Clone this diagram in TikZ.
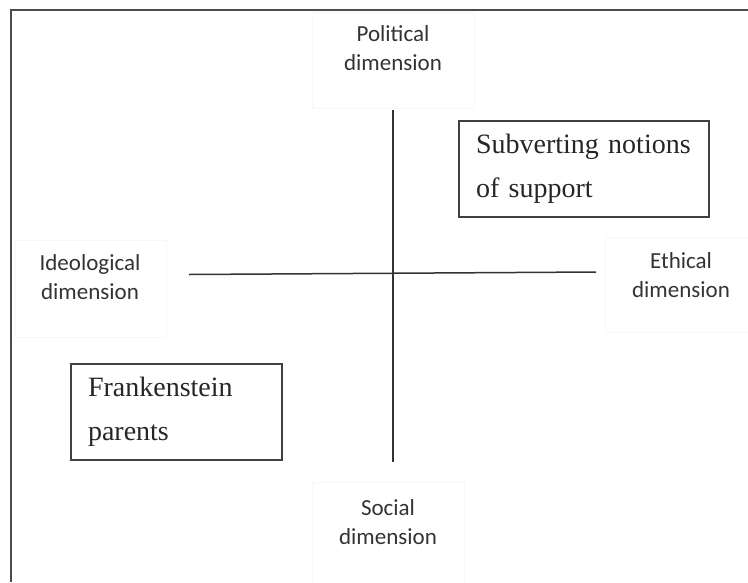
\documentclass[tikz,border=0pt]{standalone}
\usepackage{fontspec}
\setmainfont{Liberation Serif}
\newfontfamily\labelfont{Carlito}
\begin{document}
\begin{tikzpicture}[x=1pt,y=-1pt]
      \useasboundingbox (0,0) rectangle (748,582);
      % outer frame (top and left only)
      \draw[line width=2pt,color=black!70] (11,582) -- (11,10) -- (748,10);
      % faint text-box outlines behind the labels
      \begin{scope}[draw=black!3,line width=0.8pt]
        \draw (312,12) rectangle (474,108);
        \draw (15,240) rectangle (166,337);
        \draw (605,237) rectangle (750,332);
        \draw (312,482) rectangle (464,584);
      \end{scope}
      \begin{scope}[every node/.style={font=\labelfont\fontsize{23}{29}\selectfont,align=center,color=black!80,inner sep=0pt}]
        \node (pol) at (393,48) {Political\\dimension};
        \node (ideo) at (90,277) {Ideological\\dimension};
        \node (eth) at (681,275) {Ethical\\dimension};
        \node (soc) at (388,522) {Social\\dimension};
      \end{scope}
      \begin{scope}[every node/.style={draw,line width=1.5pt,color=black!75,text=black!85,font=\fontsize{28}{44.5}\selectfont,align=left,inner xsep=17pt,inner ysep=0pt,minimum height=96pt}]
        \node[text width=216pt] (sub) at (584,169) {Subverting notions\\of support};
        \node[text width=177pt] (frank) at (176.5,412) {Frankenstein\\parents};
      \end{scope}
      \coordinate (top) at (393,110);
      \coordinate (bot) at (393,462);
      \coordinate (left) at (189,274.5);
      \coordinate (right) at (596,272);
      \begin{scope}[every edge/.style={draw,line width=1.5pt,color=black!80}]
        \path (top) edge (bot);
        \path (left) edge (right);
      \end{scope}
    \end{tikzpicture}
\end{document}
